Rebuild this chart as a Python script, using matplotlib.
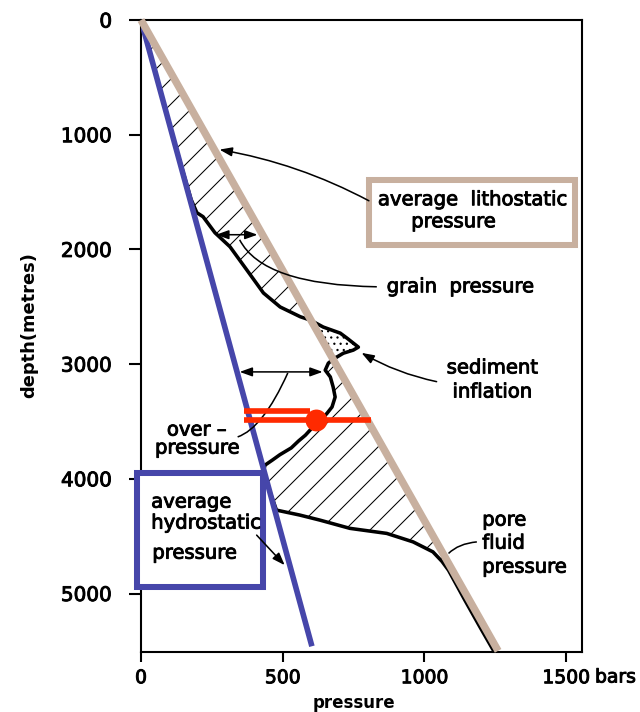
import numpy as np
import matplotlib
matplotlib.use('Agg')
import matplotlib.pyplot as plt
import matplotlib.patheffects as pe
from matplotlib.patches import Rectangle, PathPatch
from matplotlib.path import Path

# ---------------- data ----------------
litho_depth = [0, 5500]
litho_pressure = [0, 1260]
hydro_depth = [0, 5460]
hydro_pressure = [0, 603]

pore_depth = [0, 500, 1000, 1566, 1680, 1715, 1855, 1977, 2178, 2380, 2502, 2587, 2616,
              2677, 2730, 2774, 2852, 2878, 2905, 2937, 2966, 2992, 3053, 3112, 3200,
              3287, 3374, 3430, 3500, 3550, 3620, 3670, 3731, 3790, 3836, 3880, 3920,
              4100, 4273, 4316, 4360, 4432, 4476, 4550, 4637, 4720, 4797, 5059, 5292, 5490]
pore_pressure = [0, 55, 110, 177, 197, 219, 261, 314, 373, 432, 491, 562, 597,
                 643, 703, 727, 767, 749, 714, 692, 674, 661, 650, 668, 678,
                 685, 674, 656, 630, 606, 580, 556, 530, 490, 464, 438, 433,
                 453, 478, 560, 631, 737, 867, 960, 1030, 1062, 1085, 1143, 1196, 1242]

overpressure_red_upper = [365, 595]
overpressure_red_lower = [365, 813]
red_depths = [3410, 3486]
red_point = [617, 3486]

xticks = [0, 500, 1000, 1500]
xticklabels = ['0', '500', '1000', '1500']
yticks = [0, 1000, 2000, 3000, 4000, 5000]
yticklabels = ['0', '1000', '2000', '3000', '4000', '5000']

# ---------------- figure ----------------
DPI = 150
fig = plt.figure(figsize=(640 / DPI, 712 / DPI), dpi=DPI)
plt.rcParams['hatch.linewidth'] = 0.5
ax = fig.add_axes([141 / 640, 1 - 652 / 712, (582 - 141) / 640, (652 - 20) / 712])
ax.set_xlim(0, 1556)
ax.set_ylim(5510, 0)

FS = 9.4
BLUE = '#4646aa'
TAN = '#c8b09f'
RED = '#ff2a00'
HEAVY = [pe.withStroke(linewidth=0.45, foreground='black')]

pd = np.array(pore_depth, float)
pp = np.array(pore_pressure, float)
lp = np.interp(pd, litho_depth, litho_pressure)

# grain pressure (hatched) and sediment inflation (stippled)
ax.fill_betweenx(pd, pp, lp, where=pp <= lp, interpolate=True, facecolor='none',
                 edgecolor='black', hatch='//', linewidth=0, zorder=1)
ax.fill_betweenx(pd, pp, lp, where=pp >= lp, interpolate=True, facecolor='white',
                 edgecolor='black', hatch='....', linewidth=0, zorder=1)

ax.plot(pp, pd, color='black', lw=1.7, zorder=2, solid_capstyle='round')
ax.plot(hydro_pressure, hydro_depth, color=BLUE, lw=2.7, zorder=3, solid_capstyle='butt')
ax.plot(litho_pressure, litho_depth, color=TAN, lw=3.6, zorder=3, clip_on=False,
        solid_capstyle='butt')

# red overpressure marker
ax.plot(overpressure_red_upper, [red_depths[0]] * 2, color=RED, lw=2.7, zorder=6,
        solid_capstyle='butt')
ax.plot(overpressure_red_lower, [red_depths[1]] * 2, color=RED, lw=2.7, zorder=6,
        solid_capstyle='butt')
ax.plot([red_point[0]], [red_point[1]], 'o', color=RED, ms=9.5, zorder=7)

# ---------------- axes styling ----------------
for s in ax.spines.values():
    s.set_linewidth(1.0)
ax.set_xticks(xticks)
ax.set_xticklabels(xticklabels, fontsize=9.0)
ax.set_yticks(yticks)
ax.set_yticklabels(yticklabels, fontsize=9.6)
for lab in ax.get_xticklabels() + ax.get_yticklabels():
    lab.set_path_effects(HEAVY)
ax.tick_params(axis='y', direction='out', length=5.8, width=1.0, pad=8)
ax.tick_params(axis='x', direction='out', length=4.8, width=1.0, pad=3)
ax.text(1602, -0.0245, 'bars', transform=ax.get_xaxis_transform(), fontsize=9.0,
        ha='left', va='top', clip_on=False, path_effects=HEAVY)
ax.text(0.482, -0.080, 'pressure', transform=ax.transAxes, fontsize=8.0,
        fontweight='bold', ha='center', va='center')
ax.text(-0.254, 0.517, 'depth(metres)', transform=ax.transAxes, fontsize=8.6,
        fontweight='bold', ha='center', va='center', rotation=90)

# ---------------- labels and boxes ----------------
ax.add_patch(Rectangle((804, 1392), 1533 - 804, 1960 - 1392, facecolor='white',
                       edgecolor=TAN, lw=2.9, zorder=4))
txt = dict(fontsize=FS, va='center', zorder=5, path_effects=HEAVY)
ax.text(836, 1567, 'average  lithostatic', ha='left', **txt)
ax.text(1103, 1759, 'pressure', ha='center', **txt)

ax.add_patch(Rectangle((-13, 3950), 429 + 13, 4945 - 3950, facecolor='white',
                       edgecolor=BLUE, lw=2.9, zorder=4, clip_on=False))
ax.text(36, 4203, 'average', ha='left', **txt)
ax.text(36, 4386, 'hydrostatic', ha='left', **txt)
ax.text(40, 4648, 'pressure', ha='left', **txt)

ax.text(867, 2326, 'grain  pressure', ha='left', **txt)
ax.text(1240, 3033, 'sediment', ha='center', **txt)
ax.text(1240, 3243, 'inflation', ha='center', **txt)
ax.text(197, 3575, 'over –', ha='center', **txt)
ax.text(199, 3732, 'pressure', ha='center', **txt)
ax.text(1204, 4360, 'pore', ha='left', **txt)
ax.text(1204, 4561, 'fluid', ha='left', **txt)
ax.text(1204, 4770, 'pressure', ha='left', **txt)

# ---------------- pointers ----------------
arw = dict(arrowstyle='-|>,head_length=0.5,head_width=0.18', color='black', lw=0.75,
           shrinkA=0, shrinkB=0)
dbl = dict(arrowstyle='<|-|>,head_length=0.5,head_width=0.18', color='black', lw=0.75,
           shrinkA=0, shrinkB=0)
ax.annotate('', xy=(277, 1130), xytext=(804, 1576),
            arrowprops=dict(arw, connectionstyle='arc3,rad=0.08'), zorder=5)
ax.annotate('', xy=(265, 1872), xytext=(411, 1872), arrowprops=dbl, zorder=5)
ax.annotate('', xy=(348, 3068), xytext=(641, 3068), arrowprops=dbl, zorder=5)
ax.annotate('', xy=(778, 2902), xytext=(1043, 3153),
            arrowprops=dict(arw, connectionstyle='arc3,rad=-0.08'), zorder=5)
ax.annotate('', xy=(507, 4753), xytext=(408, 4491), arrowprops=arw, zorder=5)


def bez(p0, p1, p2, **kw):
    path = Path([p0, p1, p2], [Path.MOVETO, Path.CURVE3, Path.CURVE3])
    ax.add_patch(PathPatch(path, facecolor='none', edgecolor='black', lw=0.75, **kw))


bez((348, 1916), (430, 2310), (832, 2326), zorder=5)
bez((518, 3077), (430, 3560), (341, 3635), zorder=5)
bez((1085, 4651), (1120, 4565), (1185, 4550), zorder=5)

fig.savefig('out.png', dpi=DPI)
